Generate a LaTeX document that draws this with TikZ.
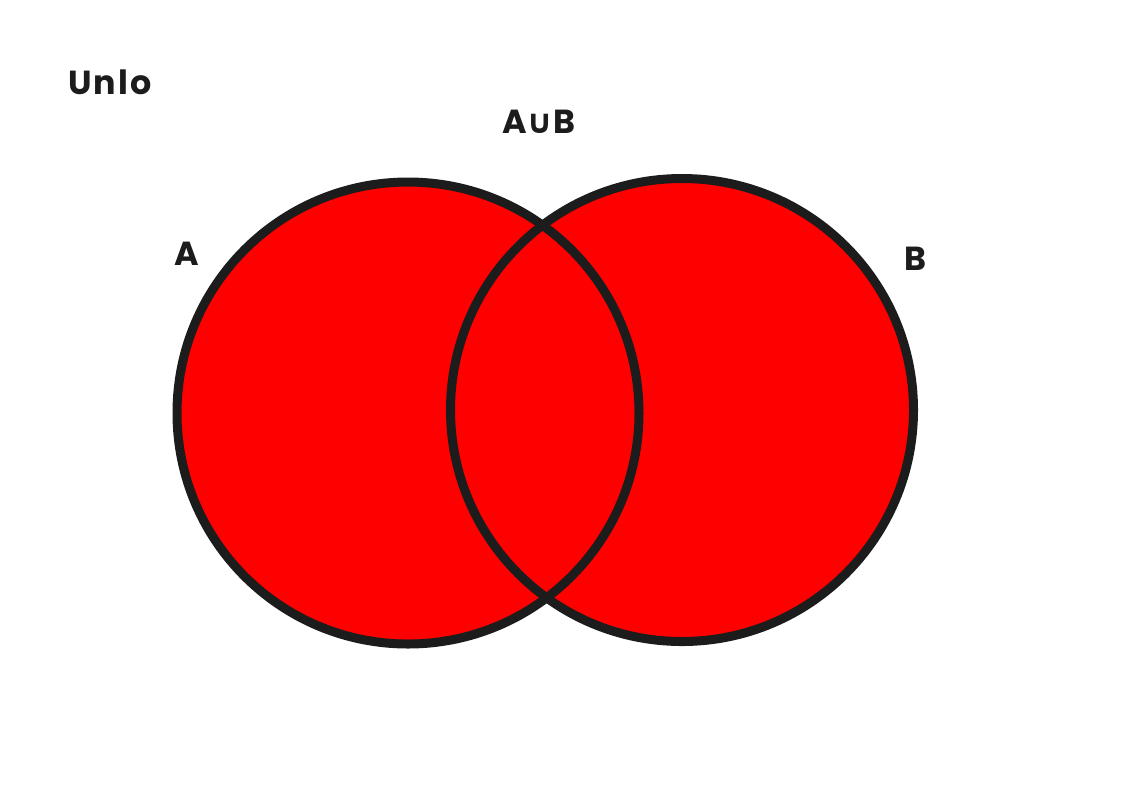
\documentclass[tikz,border=0pt]{standalone}
\usepackage{fontspec}
\setmainfont{Poppins}[BoldFont={* Bold},LetterSpace=6]
\newfontfamily\symfont{DejaVu Sans}
\definecolor{ink}{HTML}{1C1C1C}
\definecolor{setred}{HTML}{FF0000}
\begin{document}
\begin{tikzpicture}[x=0.75pt,y=-0.75pt,
  setfill/.style={fill=setred},
  setline/.style={draw=ink,line width=6.75pt},
  lbl/.style={text=ink,font=\bfseries\fontsize{25}{28}\selectfont,inner sep=0pt}]
\useasboundingbox (0,0) rectangle (1123,794);
\coordinate (ca) at (408,413);
\coordinate (cb) at (682,410);
\fill[setfill] (ca) circle[radius=231];
\fill[setfill] (cb) circle[radius=231.5];
\draw[setline] (ca) circle[radius=231];
\draw[setline] (cb) circle[radius=231.5];
\node[lbl] (title) at (110,82) {Unlo};
\node[lbl] (union) at (539,122) {A{\symfont\bfseries ∪}B};
\node[lbl] (la) at (187,254) {A};
\node[lbl] (lb) at (915,259) {B};
\end{tikzpicture}
\end{document}
